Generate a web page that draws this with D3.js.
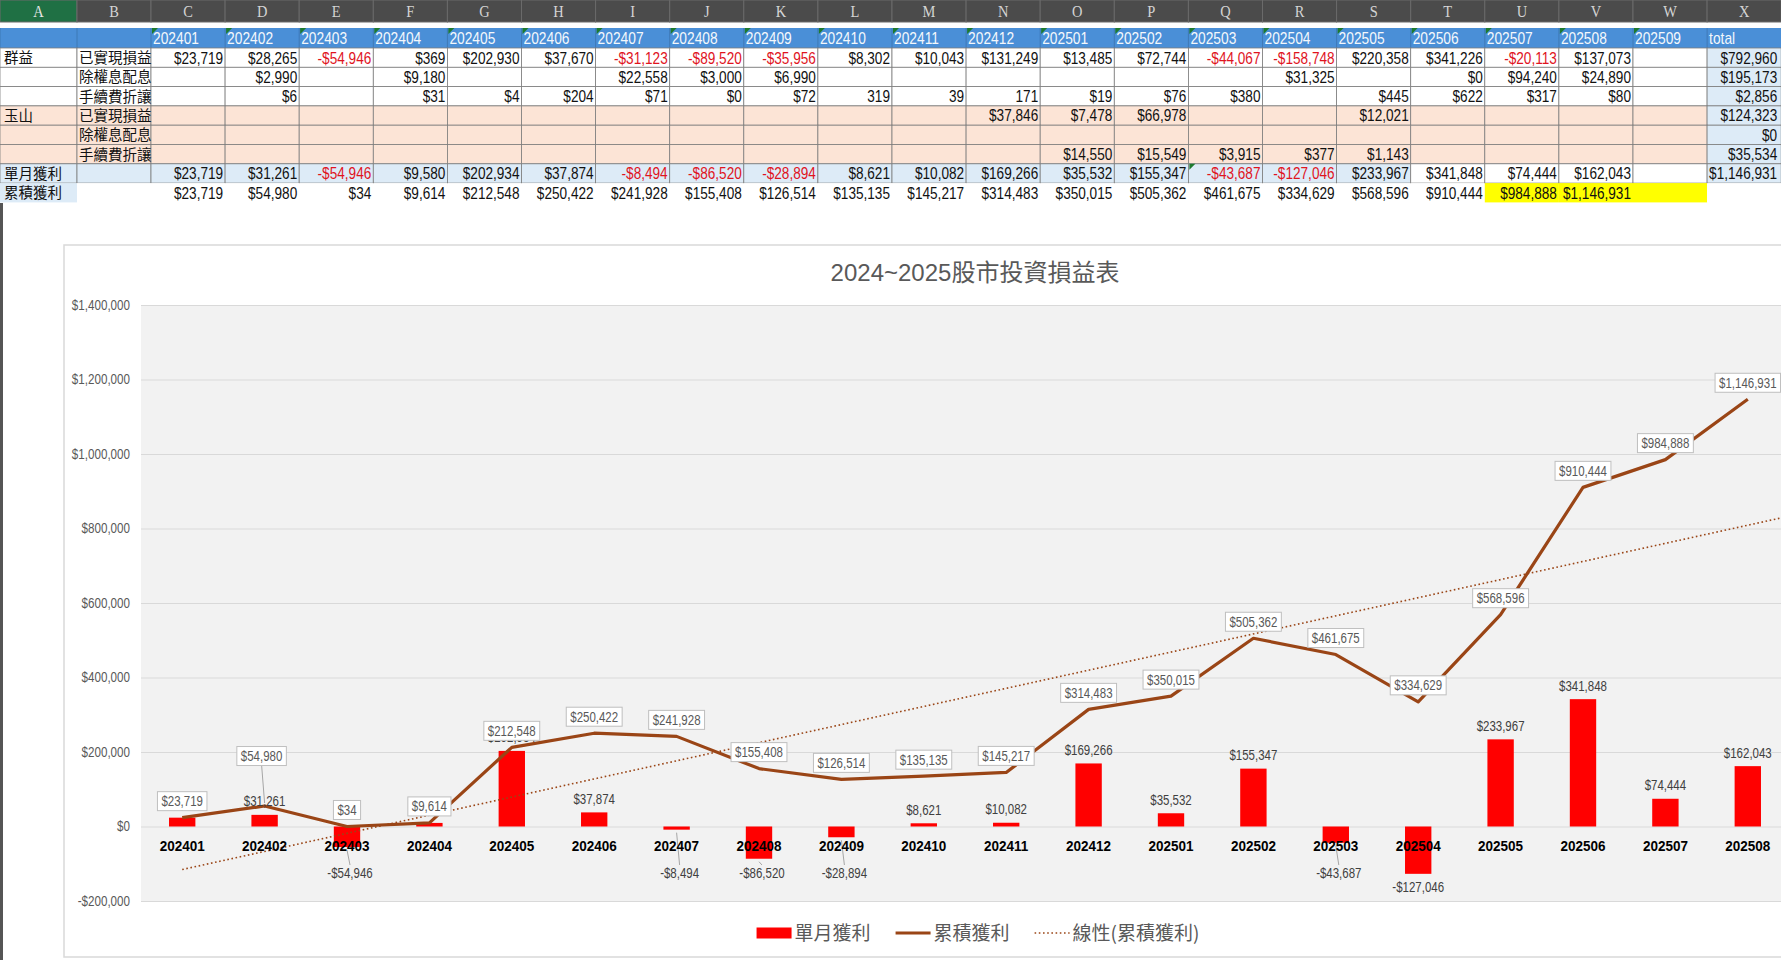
<!DOCTYPE html>
<html>
<head>
<meta charset="utf-8">
<script src="https://cdn.jsdelivr.net/npm/d3@7"></script>
<style>
html,body{margin:0;padding:0;background:#fff;overflow:hidden;}
svg{display:block;}
</style>
</head>
<body>
<svg id="root" width="1781" height="960"></svg>
<script>
// ---------------- DATA ----------------
const columnLetters = ['A','B','C','D','E','F','G','H','I','J','K','L','M','N','O','P','Q','R','S','T','U','V','W','X'];
const tableMonths = ['202401','202402','202403','202404','202405','202406','202407','202408','202409','202410','202411','202412','202501','202502','202503','202504','202505','202506','202507','202508','202509'];
const rowGroups = ['群益','玉山'];
const rowItems = ['已實現損益','除權息配息','手續費折讓'];
const qunyiRealized = [23719,28265,-54946,369,202930,37670,-31123,-89520,-35956,8302,10043,131249,13485,72744,-44067,-158748,220358,341226,-20113,137073,null];
const qunyiDividend = [null,2990,null,9180,null,null,22558,3000,6990,null,null,null,null,null,null,31325,null,0,94240,24890,null];
const qunyiFee = [null,6,null,31,4,204,71,0,72,319,39,171,19,76,380,null,445,622,317,80,null];
const qunyiFeePlainIdx = [9,10,11]; // shown without "$" in the sheet
const yushanRealized = [null,null,null,null,null,null,null,null,null,null,null,37846,7478,66978,null,null,12021,null,null,null,null];
const yushanDividend = [null,null,null,null,null,null,null,null,null,null,null,null,null,null,null,null,null,null,null,null,null];
const yushanFee = [null,null,null,null,null,null,null,null,null,null,null,null,14550,15549,3915,377,1143,null,null,null,null];
const rowTotals = [792960,195173,2856,124323,0,35534];
const monthlyTotal = 1146931;

const months = ['202401','202402','202403','202404','202405','202406','202407','202408','202409','202410','202411','202412','202501','202502','202503','202504','202505','202506','202507','202508'];
const monthlyProfit = [23719,31261,-54946,9580,202934,37874,-8494,-86520,-28894,8621,10082,169266,35532,155347,-43687,-127046,233967,341848,74444,162043];
const cumulativeProfit = [23719,54980,34,9614,212548,250422,241928,155408,126514,135135,145217,314483,350015,505362,461675,334629,568596,910444,984888,1146931];
const yTicks = [-200000,0,200000,400000,600000,800000,1000000,1200000,1400000];

const chartTitle = '2024~2025股市投資損益表';
const seriesNames = ['單月獲利','累積獲利','線性(累積獲利)'];
const labelRowMonthly = '單月獲利';
const labelRowCumulative = '累積獲利';

// ---------------- STYLE / LAYOUT ----------------
const NUM = '"Liberation Sans",Arial,sans-serif';
const CJK = '"Noto Sans CJK TC","Noto Sans CJK SC",sans-serif';
const LINE_COLOR = '#9a4516';
const BAR_COLOR = '#ff0000';

const svg = d3.select('#root');
const money = v => (v < 0 ? '-$' : '$') + d3.format(',')(Math.abs(v));
// horizontally condense a text (the original uses a narrow face)
function condense(sel, k){
  sel.each(function(){
    const L = this.getComputedTextLength();
    this.setAttribute('textLength', (L*k).toFixed(2));
    this.setAttribute('lengthAdjust','spacingAndGlyphs');
  });
  return sel;
}

// ================= SPREADSHEET =================
const colW = 74.1;
const colX = i => i === 0 ? 0 : (i === 1 ? 77 : 151 + (i - 2) * colW);
const colWidth = i => i === 0 ? 77 : (i === 1 ? 74 : colW);
const rowH = 19.3;
const dataTop = 48;
const rowY = r => dataTop + r * rowH; // r = 0..7

// column letter band
const hdr = svg.append('g');
hdr.append('rect').attr('x',0).attr('y',0).attr('width',1781).attr('height',22).attr('fill','#4b4b4b');
columnLetters.forEach((L,i)=>{
  hdr.append('rect').attr('x',colX(i)).attr('y',0).attr('width',colWidth(i)).attr('height',22)
    .attr('fill', i===0 ? '#1f7044' : '#4b4b4b').attr('stroke','#6a6a6a').attr('stroke-width',1);
  condense(hdr.append('text').attr('x',colX(i)+colWidth(i)/2).attr('y',17).attr('text-anchor','middle')
    .attr('font-family','"Liberation Serif","DejaVu Serif",serif').attr('font-size',17)
    .attr('fill', i===0 ? '#e6e6e6' : '#d4d4d4').text(L), 0.85);
});

// month header row (blue)
const tb = svg.append('g');
tb.append('rect').attr('x',0).attr('y',28).attr('width',1781).attr('height',20).attr('fill','#4a8fd7');
for (let i=0;i<24;i++){
  tb.append('line').attr('x1',colX(i)).attr('x2',colX(i)).attr('y1',28).attr('y2',48).attr('stroke','#3b73ad').attr('stroke-width',0.8);
}
tableMonths.forEach((m,k)=>{
  const c = k+2;
  condense(tb.append('text').attr('x',colX(c)+2).attr('y',44).attr('font-family',NUM).attr('font-size',17).attr('fill','#f4f8fc').text(m), 0.81);
  tb.append('path').attr('d',`M${colX(c)+1},28 l6,0 l-6,6 z`).attr('fill','#1e7a2e');
});
condense(tb.append('text').attr('x',colX(23)+2).attr('y',44).attr('font-family',NUM).attr('font-size',17).attr('fill','#f4f8fc').text('total'), 0.81);

// data rows
const rowsData = [qunyiRealized,qunyiDividend,qunyiFee,yushanRealized,yushanDividend,yushanFee];
const bgFor = r => r < 3 ? '#ffffff' : '#fce4d6';
for (let r=0;r<8;r++){
  for (let c=0;c<24;c++){
    let fill;
    if (r < 6) fill = (c===23) ? '#ddebf7' : bgFor(r);
    else if (r === 6) fill = (c>=19 && c<=22) ? '#ffffff' : '#ddebf7';
    else fill = (c===0) ? '#ddebf7' : ((c>=20 && c<=22) ? '#ffff00' : '#ffffff');
    tb.append('rect').attr('x',colX(c)).attr('y',rowY(r)).attr('width',colWidth(c)).attr('height',rowH)
      .attr('fill',fill)
      .attr('stroke', r===7 ? 'none' : '#7d7d7d').attr('stroke-width',0.8);
  }
}
// row labels
const cjkLabel = (xx,yy,s) => tb.append('text').attr('x',xx).attr('y',yy).attr('font-family',CJK).attr('font-size',14.5).attr('fill','#111').text(s);
rowGroups.forEach((g,gi)=>{
  cjkLabel(4,rowY(gi*3)+15,g);
  rowItems.forEach((it,ii)=> cjkLabel(colX(1)+2,rowY(gi*3+ii)+15,it));
});
cjkLabel(4,rowY(6)+15,labelRowMonthly);
cjkLabel(4,rowY(7)+15,labelRowCumulative);

const cellText = (r,c,v,plain) => {
  if (v === null || v === undefined) return;
  const pad = c === 23 ? 4 : 2;
  condense(tb.append('text').attr('x',colX(c)+colWidth(c)-pad).attr('y',rowY(r)+15.5).attr('text-anchor','end')
    .attr('font-family',NUM).attr('font-size',17).attr('fill', v<0 ? '#e0141e' : '#111')
    .text(plain ? d3.format(',')(v) : money(v)), 0.8);
};
rowsData.forEach((arr,r)=>{
  arr.forEach((v,k)=> cellText(r,k+2,v, r===2 && qunyiFeePlainIdx.includes(k)));
  cellText(r,23,rowTotals[r],false);
});
monthlyProfit.forEach((v,k)=>cellText(6,k+2,v,false));
cellText(6,23,monthlyTotal,false);
cumulativeProfit.forEach((v,k)=>cellText(7,k+2,v,false));
tb.append('path').attr('d',`M${colX(16)+1},${rowY(6)} l6,0 l-6,6 z`).attr('fill','#1e7a2e');

// left edge strip (row headers)
svg.append('rect').attr('x',0).attr('y',203).attr('width',3).attr('height',757).attr('fill','#555');

// ================= CHART =================
const chart = svg.append('g');
chart.append('rect').attr('x',64).attr('y',245).attr('width',1740).attr('height',712)
  .attr('fill','#fff').attr('stroke','#d9d9d9').attr('stroke-width',1.5);

chart.append('text').attr('x',975).attr('y',281).attr('text-anchor','middle')
  .attr('font-family','"Liberation Sans",Arial,"Noto Sans CJK TC",sans-serif').attr('font-size',24)
  .attr('fill','#595959').text(chartTitle);

const x = d3.scaleBand().domain(months).range([141,1789]).paddingInner(0.68).paddingOuter(0.34);
const y = d3.scaleLinear().domain([-200000,1400000]).range([901,305]);
const step = x.step();
const cx = i => x(months[0]) + x.bandwidth()/2 + i*step;

chart.append('rect').attr('x',141).attr('y',305).attr('width',1648).attr('height',596).attr('fill','#f2f2f2');

// grid + y tick labels
const yAxis = d3.axisLeft(y).tickValues(yTicks).tickSize(-1648).tickFormat(money);
const ga = chart.append('g').attr('transform','translate(141,0)').call(yAxis);
ga.select('.domain').remove();
ga.selectAll('.tick line').attr('stroke','#d9d9d9').attr('stroke-width',1.2);
condense(ga.selectAll('.tick text').attr('x',-11).attr('font-family',NUM).attr('font-size',14).attr('fill','#595959'), 0.83);

// bars
chart.append('g').selectAll('rect').data(monthlyProfit).join('rect')
  .attr('x',(d,i)=>x(months[i])).attr('width',x.bandwidth())
  .attr('y',d=>y(Math.max(0,d))).attr('height',d=>Math.abs(y(d)-y(0)))
  .attr('fill',BAR_COLOR);

// trend line (least squares on cumulative series)
const n = cumulativeProfit.length;
const xs = d3.range(1,n+1);
const mx = d3.mean(xs), my = d3.mean(cumulativeProfit);
const slope = d3.sum(xs,(xi,k)=>(xi-mx)*(cumulativeProfit[k]-my)) / d3.sum(xs,xi=>(xi-mx)*(xi-mx));
const icpt = my - slope*mx;
const trendPts = [1, n + 0.5].map(t=>[cx(t-1), y(icpt + slope*t)]);
chart.append('path').attr('d',d3.line()(trendPts)).attr('fill','none')
  .attr('stroke',LINE_COLOR).attr('stroke-width',1.6).attr('stroke-dasharray','1.6,2.6');

// cumulative line
chart.append('path').datum(cumulativeProfit)
  .attr('d',d3.line().x((d,i)=>cx(i)).y(d=>y(d)))
  .attr('fill','none').attr('stroke',LINE_COLOR).attr('stroke-width',3.2).attr('stroke-linejoin','round');

// bar data labels
const negLabelFloor = 873;
const bl = chart.append('g');
monthlyProfit.forEach((v,i)=>{
  let ly, moved=false;
  if (v >= 0) ly = y(v) - 13.5;
  else { ly = y(v) + 13; if (ly < negLabelFloor){ ly = negLabelFloor; moved = true; } }
  const lx = cx(i) + (moved ? 3 : 0);
  if (moved) bl.append('line').attr('x1',cx(i)).attr('x2',lx).attr('y1',y(v)+3).attr('y2',ly-8)
      .attr('stroke','#a6a6a6').attr('stroke-width',1);
  condense(bl.append('text').attr('x',lx).attr('y',ly).attr('dy','0.35em').attr('text-anchor','middle')
    .attr('font-family',NUM).attr('font-size',14).attr('fill','#404040').text(money(v)), 0.82);
});

// category labels
condense(chart.append('g').selectAll('text').data(months).join('text')
  .attr('x',(d,i)=>cx(i)).attr('y',846).attr('dy','0.35em').attr('text-anchor','middle')
  .attr('font-family',NUM).attr('font-weight','bold').attr('font-size',15.5).attr('fill','#000').text(d=>d), 0.87);

// cumulative data labels (boxed)
const cumLift = {1: 50};
const cl = chart.append('g');
cumulativeProfit.forEach((v,i)=>{
  const lift = cumLift[i] || 16.5;
  const lx = cx(i) - (cumLift[i] ? 3 : 0), ly = y(v) - lift;
  if (cumLift[i]) cl.append('line').attr('x1',lx).attr('y1',ly+9).attr('x2',cx(i)).attr('y2',y(v)-3)
      .attr('stroke','#a6a6a6').attr('stroke-width',1);
  const g = cl.append('g');
  const r = g.append('rect');
  const t = g.append('text').attr('x',lx).attr('y',ly).attr('dy','0.35em').attr('text-anchor','middle')
    .attr('font-family',NUM).attr('font-size',14).attr('fill','#595959').text(money(v));
  condense(t, 0.82);
  const w = +t.attr('textLength') + 8;
  r.attr('x',lx-w/2).attr('y',ly-9.5).attr('width',w).attr('height',19)
    .attr('fill','#fff').attr('stroke','#bfbfbf').attr('stroke-width',1);
});

// legend
const lg = chart.append('g');
const legY = 933;
const legFont = 19;
const swW = 35, gapSw = 3, gapItem = 25;
const tmp = lg.append('g');
const widths = seriesNames.map(s=>{
  const tt = tmp.append('text').attr('font-family',CJK).attr('font-size',legFont).text(s);
  return tt.node().getComputedTextLength();
});
tmp.remove();
const total = d3.sum(widths) + 3*(swW+gapSw) + 2*gapItem;
let lx0 = 978 - total/2;
seriesNames.forEach((s,k)=>{
  if (k===0) lg.append('rect').attr('x',lx0).attr('y',legY-5.5).attr('width',swW).attr('height',11).attr('fill',BAR_COLOR);
  else if (k===1) lg.append('line').attr('x1',lx0).attr('x2',lx0+swW).attr('y1',legY).attr('y2',legY).attr('stroke',LINE_COLOR).attr('stroke-width',3.2);
  else lg.append('line').attr('x1',lx0).attr('x2',lx0+swW).attr('y1',legY).attr('y2',legY).attr('stroke',LINE_COLOR).attr('stroke-width',1.6).attr('stroke-dasharray','1.6,2.6');
  lg.append('text').attr('x',lx0+swW+gapSw).attr('y',legY).attr('dy','0.36em')
    .attr('font-family',CJK).attr('font-size',legFont).attr('fill','#595959').text(s);
  lx0 += swW + gapSw + widths[k] + gapItem;
});
</script>
</body>
</html>
